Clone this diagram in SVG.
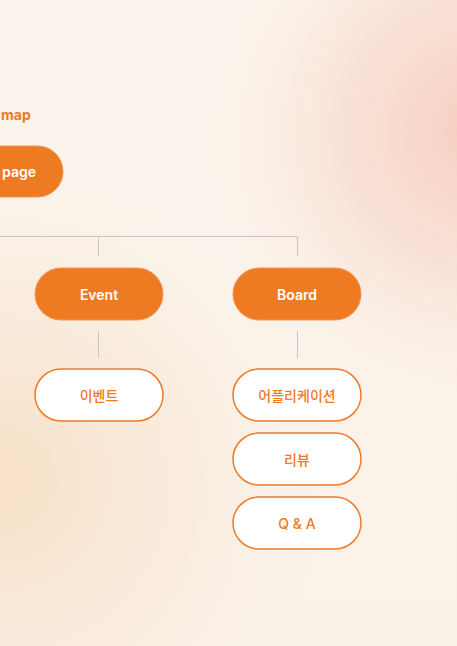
<svg xmlns="http://www.w3.org/2000/svg" width="457" height="646" viewBox="0 0 457 646">
<defs>
<linearGradient id="bg" x1="0" y1="0" x2="0" y2="1">
<stop offset="0" stop-color="#FBF4EC"/>
<stop offset="1" stop-color="#FAF1E8"/>
</linearGradient>
<radialGradient id="pink" cx="480" cy="130" r="300" gradientUnits="userSpaceOnUse">
<stop offset="0" stop-color="#F6CDBF"/>
<stop offset="0.45" stop-color="#F8DACD" stop-opacity="0.7"/>
<stop offset="1" stop-color="#FBF3EA" stop-opacity="0"/>
</radialGradient>
<radialGradient id="peach" cx="0" cy="480" r="330" gradientUnits="userSpaceOnUse">
<stop offset="0" stop-color="#F8E0C6"/>
<stop offset="0.6" stop-color="#F9E8D6" stop-opacity="0.5"/>
<stop offset="1" stop-color="#FAF0E6" stop-opacity="0"/>
</radialGradient>
<style>
.t{font-family:Inter,"Noto Sans CJK KR",sans-serif;font-size:14px;text-anchor:middle;dominant-baseline:central}
.p rect{fill:#EE7A22;stroke:#F29550;stroke-width:1}
.p text{fill:#FFFFFF;font-weight:600}
.c rect{fill:#FFFFFF;stroke:#EE7A22;stroke-width:1.5}
.c text{fill:#EE7A22;font-weight:500}
.ln{stroke:#C6C6C4;stroke-width:1;fill:none}
</style>
</defs>
<rect width="457" height="646" fill="url(#bg)"/>
<rect width="457" height="646" fill="url(#peach)"/>
<rect width="457" height="646" fill="url(#pink)"/>
<text id="title" x="1" y="120" style="font-family:Inter,sans-serif;font-size:14px;font-weight:700;fill:#EE7A22">map</text>
<g id="connectors" class="ln">
<path d="M0 236.5H297.5V256"/>
<path d="M98.5 236.5V256"/>
<path d="M98.5 331V358"/>
<path d="M297.5 331V358"/>
</g>
<g id="node-page" class="p">
<rect x="-65" y="146" width="128" height="51" rx="25.5"/>
<text class="t" x="19" y="171.5">page</text>
</g>
<g id="node-event" class="p">
<rect x="35" y="268" width="128" height="52" rx="26"/>
<text class="t" x="99" y="294">Event</text>
</g>
<g id="node-board" class="p">
<rect x="233" y="268" width="128" height="52" rx="26"/>
<text class="t" x="297" y="294">Board</text>
</g>
<g id="node-event-kr" class="c">
<rect x="35" y="369" width="128" height="52" rx="26"/>
<text class="t" x="99" y="395">이벤트</text>
</g>
<g id="node-application" class="c">
<rect x="233" y="369" width="128" height="52" rx="26"/>
<text class="t" x="297" y="395">어플리케이션</text>
</g>
<g id="node-review" class="c">
<rect x="233" y="433" width="128" height="52" rx="26"/>
<text class="t" x="297" y="459">리뷰</text>
</g>
<g id="node-qa" class="c">
<rect x="233" y="497" width="128" height="52" rx="26"/>
<text class="t" x="297" y="523">Q &amp; A</text>
</g>
</svg>
